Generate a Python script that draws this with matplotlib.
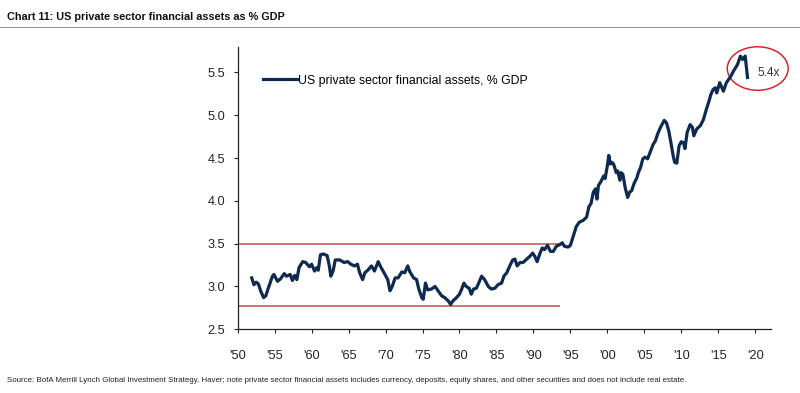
import matplotlib
matplotlib.use("Agg")
import matplotlib.pyplot as plt
from matplotlib.patches import Ellipse

# readings (year, assets as multiple of GDP)
years = [
    1951.9, 1952.2, 1952.5, 1952.8, 1953.1, 1953.5, 1953.8, 1954.1, 1954.7, 1954.9,
    1955.4, 1955.8, 1956.3, 1956.6, 1957.1, 1957.4, 1957.7, 1958.0, 1958.3, 1958.8,
    1959.2, 1959.7, 1960.0, 1960.4, 1960.7, 1960.9, 1961.2, 1961.6, 1962.1, 1962.4,
    1962.6, 1962.9, 1963.2, 1963.8, 1964.4, 1964.9, 1965.3, 1965.8, 1966.2, 1966.5,
    1966.9, 1967.2, 1967.6, 1968.1, 1968.5, 1969.0, 1969.4, 1969.8, 1970.3, 1970.6,
    1970.9, 1971.3, 1971.7, 1972.2, 1972.6, 1973.0, 1973.3, 1973.8, 1974.2, 1974.5,
    1974.9, 1975.1, 1975.4, 1975.7, 1976.2, 1976.7, 1977.1, 1977.6, 1978.0, 1978.5,
    1978.8, 1979.1, 1979.6, 1980.0, 1980.3, 1980.6, 1980.9, 1981.3, 1981.6, 1981.9,
    1982.3, 1982.7, 1983.0, 1983.4, 1983.9, 1984.3, 1984.8, 1985.2, 1985.7, 1986.0,
    1986.4, 1986.8, 1987.2, 1987.5, 1987.8, 1988.2, 1988.6, 1989.1, 1989.5, 1989.9,
    1990.2, 1990.5, 1990.9, 1991.2, 1991.5, 1991.9, 1992.3, 1992.7, 1993.1, 1993.6,
    1993.9, 1994.2, 1994.7, 1995.0, 1995.4, 1995.8, 1996.2, 1996.7, 1997.2, 1997.5,
    1997.8, 1998.1, 1998.4, 1998.6, 1998.8, 1999.1, 1999.5, 1999.7, 2000.0, 2000.2,
    2000.4, 2000.6, 2000.85, 2001.2, 2001.4, 2001.7, 2001.85, 2002.1, 2002.4, 2002.75,
    2003.0, 2003.3, 2003.6, 2004.0, 2004.2, 2004.5, 2004.8, 2005.1, 2005.45, 2005.8,
    2006.2, 2006.5, 2006.8, 2007.2, 2007.7, 2008.0, 2008.3, 2008.6, 2008.9, 2009.1,
    2009.4, 2009.7, 2010.0, 2010.3, 2010.5, 2010.8, 2011.2, 2011.5, 2011.7, 2012.1,
    2012.6, 2013.0, 2013.4, 2013.7, 2014.0, 2014.3, 2014.6, 2014.8, 2015.2, 2015.5,
    2015.7, 2016.1, 2016.6, 2017.1, 2017.6, 2018.0, 2018.3, 2018.65, 2018.96,
]
assets = [
    3.10, 3.02, 3.05, 3.03, 2.95, 2.87, 2.89, 2.97, 3.12, 3.14,
    3.06, 3.09, 3.15, 3.12, 3.14, 3.07, 3.13, 3.08, 3.22, 3.29,
    3.28, 3.23, 3.26, 3.18, 3.22, 3.19, 3.37, 3.38, 3.36, 3.24,
    3.12, 3.18, 3.31, 3.31, 3.28, 3.29, 3.26, 3.24, 3.26, 3.16,
    3.08, 3.16, 3.19, 3.24, 3.18, 3.29, 3.22, 3.16, 3.08, 2.95,
    3.00, 3.10, 3.10, 3.17, 3.16, 3.24, 3.17, 3.10, 3.08, 2.97,
    2.87, 2.85, 3.04, 2.96, 2.97, 3.00, 2.95, 2.89, 2.87, 2.83,
    2.79, 2.83, 2.87, 2.91, 2.97, 3.04, 3.00, 2.98, 2.91, 2.97,
    2.98, 3.06, 3.12, 3.08, 3.00, 2.97, 2.98, 3.02, 3.04, 3.12,
    3.16, 3.24, 3.31, 3.32, 3.24, 3.28, 3.28, 3.32, 3.35, 3.39,
    3.35, 3.29, 3.39, 3.45, 3.43, 3.48, 3.41, 3.41, 3.47, 3.49,
    3.51, 3.47, 3.46, 3.48, 3.59, 3.70, 3.75, 3.77, 3.81, 3.93,
    3.97, 4.10, 4.14, 4.02, 4.18, 4.22, 4.29, 4.26, 4.41, 4.53,
    4.43, 4.45, 4.43, 4.33, 4.35, 4.24, 4.33, 4.31, 4.16, 4.04,
    4.10, 4.12, 4.20, 4.27, 4.33, 4.39, 4.49, 4.51, 4.49, 4.57,
    4.66, 4.70, 4.78, 4.86, 4.94, 4.91, 4.82, 4.68, 4.53, 4.45,
    4.44, 4.64, 4.69, 4.68, 4.61, 4.80, 4.89, 4.86, 4.76, 4.84,
    4.88, 4.95, 5.07, 5.15, 5.24, 5.30, 5.32, 5.26, 5.38, 5.32,
    5.28, 5.38, 5.44, 5.52, 5.59, 5.69, 5.65, 5.69, 5.44,
]

# range lines
upper_band = 3.5
lower_band = 2.77
band_start, band_end = 1950, 1993.6

xticks = list(range(1950, 2021, 5))
xlabels = ["'%02d" % (y % 100) for y in xticks]
yticks = [2.5, 3.0, 3.5, 4.0, 4.5, 5.0, 5.5]

plt.rcParams["font.family"] = ["Liberation Sans", "DejaVu Sans"]

fig = plt.figure(figsize=(8, 3.93), dpi=100)
ax = fig.add_axes([0.2971, 0.1621, 0.6663, 0.7191])

navy = "#0f2a50"
red = "#c0504d"

ax.hlines([upper_band, lower_band], band_start, band_end, color=red, lw=1.1)
ax.plot(years, assets, color=navy, lw=2.3, solid_joinstyle="round",
        label="US private sector financial assets, % GDP")

ax.set_xlim(1950, 2022.1)
ax.set_ylim(2.5, 5.8)
ax.set_xticks(xticks)
ax.set_xticklabels(xlabels)
ax.set_yticks(yticks)
ax.set_yticklabels(["%.1f" % v for v in yticks])
ax.tick_params(axis="both", direction="out", length=3, width=0.8,
               labelsize=9.2, colors="#222222")
ax.tick_params(axis="x", pad=12)
ax.tick_params(axis="y", pad=6)
for s in ["top", "right"]:
    ax.spines[s].set_visible(False)
for s in ["left", "bottom"]:
    ax.spines[s].set_linewidth(0.9)
    ax.spines[s].set_color("#222222")

ax.legend(loc="center left", bbox_to_anchor=(0.048, 0.88), frameon=False,
          fontsize=8.8, handlelength=2.8, handletextpad=0.05, borderpad=0,
          borderaxespad=0)

# circle round the latest reading
ax.add_patch(Ellipse((2020.34, 5.545), 8.24, 0.508, fill=False,
                     edgecolor="#d32630", lw=1.1, clip_on=False))
ax.text(2020.25, 5.49, "5.4x", fontsize=8.5, va="center", ha="left",
        color="#333333")

fig.text(0.009, 0.957, "Chart 11: US private sector financial assets as % GDP",
         fontsize=7.8, fontweight="bold", va="center", ha="left", color="#111111")
fig.add_artist(plt.Line2D([0, 1], [0.932, 0.932], color="#999999", lw=0.8))
fig.text(0.009, 0.033,
         "Source: BofA Merrill Lynch Global Investment Strategy, Haver; note private "
         "sector financial assets includes currency, deposits, equity shares, and "
         "other securities and does not include real estate.",
         fontsize=5.7, va="center", ha="left", color="#222222")

fig.savefig("out.png", dpi=100)
